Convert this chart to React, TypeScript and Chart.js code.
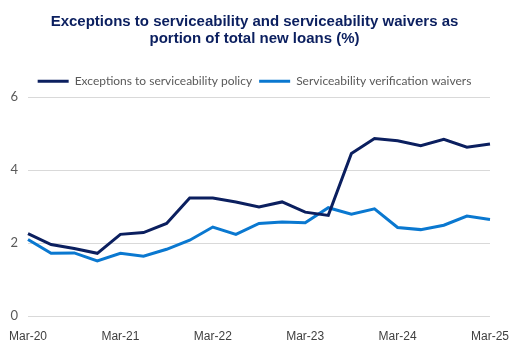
import React, { useEffect, useRef } from "react";
import { Chart, registerables } from "chart.js";

Chart.register(...registerables);

const categories = [
  "Mar-20", "Jun-20", "Sep-20", "Dec-20",
  "Mar-21", "Jun-21", "Sep-21", "Dec-21",
  "Mar-22", "Jun-22", "Sep-22", "Dec-22",
  "Mar-23", "Jun-23", "Sep-23", "Dec-23",
  "Mar-24", "Jun-24", "Sep-24", "Dec-24",
  "Mar-25",
];

const exceptionsSeries = [
  2.26, 1.96, 1.85, 1.72,
  2.24, 2.29, 2.54, 3.24,
  3.24, 3.13, 2.99, 3.13,
  2.85, 2.76, 4.46, 4.87,
  4.81, 4.67, 4.85, 4.63,
  4.72,
];

const waiversSeries = [
  2.1, 1.72, 1.73, 1.51,
  1.72, 1.64, 1.83, 2.08,
  2.44, 2.24, 2.54, 2.58,
  2.56, 2.97, 2.79, 2.94,
  2.43, 2.37, 2.49, 2.74,
  2.65,
];

const seriesNames = ["Exceptions to serviceability policy", "Serviceability verification waivers"];
const titleLines = [
  "Exceptions to serviceability and serviceability waivers as",
  "portion of total new loans (%)",
];
const yTicks = [0, 2, 4, 6];

const DARK = "#0b1f5f";
const LIGHT = "#0a78d0";

export default function App() {
  const ref = useRef<HTMLCanvasElement | null>(null);

  useEffect(() => {
    document.body.style.margin = "0";
    const canvas = ref.current;
    if (!canvas) return;
    const chart = new Chart(canvas, {
      type: "line",
      data: {
        labels: categories,
        datasets: [
          {
            label: seriesNames[0],
            data: exceptionsSeries,
            borderColor: DARK,
            backgroundColor: DARK,
            borderWidth: 3,
            pointRadius: 0,
            tension: 0,
          },
          {
            label: seriesNames[1],
            data: waiversSeries,
            borderColor: LIGHT,
            backgroundColor: LIGHT,
            borderWidth: 3,
            pointRadius: 0,
            tension: 0,
          },
        ],
      },
      options: {
        responsive: false,
        animation: false,
        layout: { padding: { left: 0, right: 0, top: 0, bottom: 0 } },
        plugins: {
          title: {
            display: true,
            text: titleLines,
            color: DARK,
            font: { family: "'Liberation Sans', Arial, sans-serif", size: 15, weight: "bold", lineHeight: 1.11 },
            padding: { top: 14, bottom: 21 },
          },
          legend: {
            display: true,
            position: "top",
            labels: {
              usePointStyle: true,
              pointStyle: "line",
              pointStyleWidth: 31,
              boxHeight: 12,
              padding: 7,
              color: "#595959",
              font: { family: "Lato, 'Noto Sans', sans-serif", size: 12 },
            },
          },
          tooltip: { enabled: false },
        },
        scales: {
          x: {
            grid: { display: false },
            border: { display: false },
            ticks: {
              autoSkip: false,
              maxRotation: 0,
              padding: 5,
              color: "#404040",
              font: { family: "'Liberation Sans', Arial, sans-serif", size: 12 },
              callback: (_v: any, i: number) => (i % 4 === 0 ? categories[i] : null),
            },
            afterFit: (scale: any) => {
              scale.height = 30;
              scale.paddingLeft = 0;
              scale.paddingRight = 19;
            },
          },
          y: {
            min: 0,
            max: 6,
            afterBuildTicks: (scale: any) => {
              scale.ticks = yTicks.map((v) => ({ value: v }));
            },
            grid: { color: "#d9d9d9", lineWidth: 1, drawTicks: false },
            border: { display: false },
            ticks: {
              padding: 10,
              color: "#595959",
              font: { family: "Lato, 'Noto Sans', sans-serif", size: 13 },
            },
            afterFit: (scale: any) => {
              scale.width = 28;
            },
          },
        },
      },
    });
    return () => chart.destroy();
  }, []);

  return <canvas ref={ref} width={509} height={346} style={{ display: "block" }} />;
}
